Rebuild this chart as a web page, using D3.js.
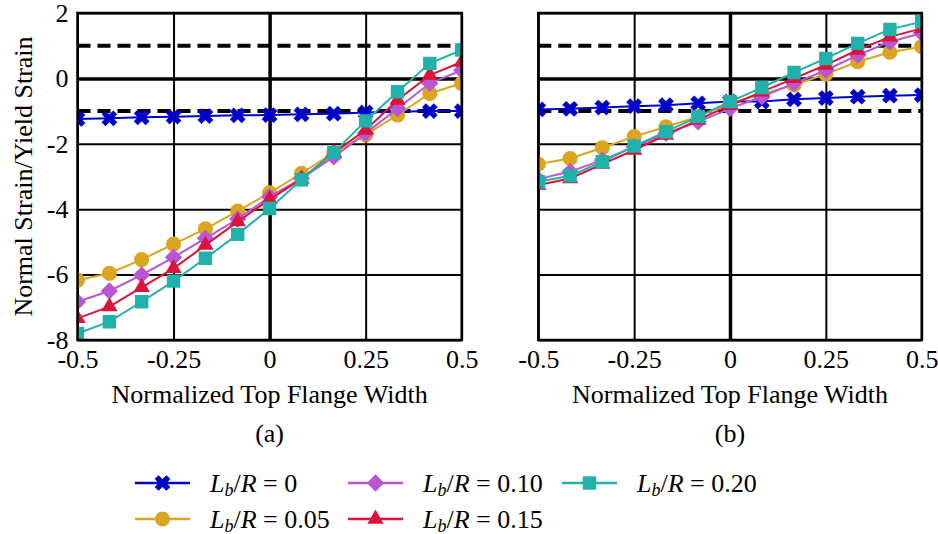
<!DOCTYPE html>
<html>
<head>
<meta charset="utf-8">
<script src="https://d3js.org/d3.v7.min.js"></script>
<style>
  body { margin: 0; background: #fff; }
  text { font-family: "Liberation Serif", "Times New Roman", serif; fill: #000; }
</style>
</head>
<body>
<div id="chart"></div>
<script>
// normalized top flange width (13 stations)
var xVals = [-0.5, -0.417, -0.333, -0.25, -0.167, -0.083, 0, 0.083, 0.167, 0.25, 0.333, 0.417, 0.5];
var xTicks = [-0.5, -0.25, 0, 0.25, 0.5];
var yTicks = [-8, -6, -4, -2, 0, 2];
var seriesNames = ["0", "0.05", "0.10", "0.15", "0.20"];

// panel (a)
var a_lb000 = [-1.24, -1.22, -1.19, -1.17, -1.15, -1.13, -1.12, -1.10, -1.08, -1.04, -1.02, -1.00, -1.00];
var a_lb005 = [-6.17, -5.96, -5.54, -5.07, -4.60, -4.06, -3.50, -2.90, -2.27, -1.73, -1.12, -0.46, -0.15];
var a_lb010 = [-6.83, -6.50, -6.01, -5.47, -4.89, -4.30, -3.62, -3.06, -2.40, -1.68, -0.92, -0.15, 0.25];
var a_lb015 = [-7.34, -6.98, -6.39, -5.81, -5.10, -4.38, -3.70, -3.08, -2.27, -1.58, -0.66, 0.10, 0.50];
var a_lb020 = [-7.80, -7.44, -6.83, -6.20, -5.50, -4.77, -3.98, -3.10, -2.27, -1.30, -0.41, 0.46, 0.87];

// panel (b)
var b_lb000 = [-0.95, -0.93, -0.89, -0.85, -0.82, -0.76, -0.71, -0.71, -0.64, -0.60, -0.56, -0.53, -0.51];
var b_lb005 = [-2.62, -2.45, -2.12, -1.78, -1.48, -1.17, -0.76, -0.48, -0.20, 0.13, 0.51, 0.80, 0.97];
var b_lb010 = [-3.08, -2.85, -2.50, -2.09, -1.68, -1.33, -0.92, -0.56, -0.15, 0.25, 0.71, 1.12, 1.38];
var b_lb015 = [-3.26, -3.06, -2.62, -2.19, -1.73, -1.27, -0.82, -0.41, 0.00, 0.41, 0.87, 1.27, 1.53];
var b_lb020 = [-3.16, -2.98, -2.55, -2.07, -1.63, -1.17, -0.71, -0.28, 0.18, 0.61, 1.07, 1.50, 1.73];

var colors = ["#0000CD", "#DAA520", "#BA55D3", "#DC143C", "#20B2AA"];
var symbols = [
  {type: d3.symbolCross, size: 155, rot: 45},
  {type: d3.symbolCircle, size: 180, rot: 0},
  {type: d3.symbolSquare, size: 150, rot: 45},
  {type: d3.symbolTriangle, size: 115, rot: 0},
  {type: d3.symbolSquare, size: 180, rot: 0}
];

var width = 938, height = 534;
var plotTop = 13, plotBottom = 340;

var svg = d3.select("#chart").append("svg")
  .attr("width", width)
  .attr("height", height);

var y = d3.scaleLinear().domain([-8, 2]).range([plotBottom, plotTop]);

var panels = [
  {x0: 77.5, x1: 461.7, label: "(a)", data: [a_lb000, a_lb005, a_lb010, a_lb015, a_lb020], yLabels: true},
  {x0: 538.3, x1: 921.7, label: "(b)", data: [b_lb000, b_lb005, b_lb010, b_lb015, b_lb020], yLabels: false}
];

var fmt = function(d) { return String(d); };

panels.forEach(function(p, pi) {
  var x = d3.scaleLinear().domain([-0.5, 0.5]).range([p.x0, p.x1]);
  var pw = p.x1 - p.x0, ph = plotBottom - plotTop;

  // vertical grid + x tick labels
  var gx = svg.append("g")
    .attr("transform", "translate(0," + plotBottom + ")")
    .call(d3.axisBottom(x).tickValues(xTicks).tickSizeInner(-ph).tickSizeOuter(0).tickPadding(9.5).tickFormat(fmt));
  gx.select(".domain").remove();
  gx.selectAll("line").attr("stroke", "#000").attr("stroke-width", function(d) { return d === 0 ? 3.5 : 2; });
  gx.selectAll("text").style("font-size", "26px").style("font-family", "Liberation Serif");

  // horizontal grid + y tick labels
  var gy = svg.append("g")
    .attr("transform", "translate(" + p.x0 + ",0)")
    .call(d3.axisLeft(y).tickValues(yTicks).tickSizeInner(-pw).tickSizeOuter(0).tickPadding(9)
      .tickFormat(p.yLabels ? fmt : function() { return ""; }));
  gy.select(".domain").remove();
  gy.selectAll("line").attr("stroke", "#000").attr("stroke-width", function(d) { return d === 0 ? 3.5 : 2; });
  gy.selectAll("text").style("font-size", "26px").style("font-family", "Liberation Serif");

  // yield lines
  svg.selectAll(null).data([1, -1]).enter().append("line")
    .attr("x1", p.x0).attr("x2", p.x1)
    .attr("y1", function(d) { return y(d); })
    .attr("y2", function(d) { return y(d); })
    .attr("stroke", "#000")
    .attr("stroke-width", 4)
    .attr("stroke-dasharray", "13,7");

  // clip
  var clipId = "clip" + pi;
  svg.append("clipPath").attr("id", clipId).append("rect")
    .attr("x", p.x0).attr("y", plotTop).attr("width", pw).attr("height", ph);

  var plot = svg.append("g").attr("clip-path", "url(#" + clipId + ")");

  var line = d3.line()
    .x(function(d, i) { return x(xVals[i]); })
    .y(function(d) { return y(d); });

  p.data.forEach(function(vals, si) {
    var g = plot.append("g");
    g.append("path")
      .datum(vals)
      .attr("d", line)
      .attr("fill", "none")
      .attr("stroke", colors[si])
      .attr("stroke-width", 2);
    var sym = d3.symbol().type(symbols[si].type).size(symbols[si].size);
    g.selectAll("path.mk").data(vals).enter().append("path")
      .attr("class", "mk")
      .attr("d", sym)
      .attr("transform", function(d, i) {
        return "translate(" + x(xVals[i]) + "," + y(d) + ") rotate(" + symbols[si].rot + ")";
      })
      .attr("fill", colors[si]);
  });

  // frame
  svg.append("rect")
    .attr("x", p.x0).attr("y", plotTop)
    .attr("width", pw).attr("height", ph)
    .attr("fill", "none")
    .attr("stroke", "#000")
    .attr("stroke-width", 2.5);

  var cx = (p.x0 + p.x1) / 2;
  svg.append("text")
    .attr("x", cx).attr("y", 403)
    .attr("text-anchor", "middle")
    .style("font-size", "26px")
    .text("Normalized Top Flange Width");
  svg.append("text")
    .attr("x", cx).attr("y", 442)
    .attr("text-anchor", "middle")
    .style("font-size", "26px")
    .text(p.label);
});

// y axis title
svg.append("text")
  .attr("transform", "translate(32," + ((plotTop + plotBottom) / 2) + ") rotate(-90)")
  .attr("text-anchor", "middle")
  .style("font-size", "26px")
  .text("Normal Strain/Yield Strain");

// legend
var legendPos = [
  {x: 135, y: 483}, {x: 135, y: 519},
  {x: 348, y: 483}, {x: 348, y: 519},
  {x: 562, y: 483}
];

var legend = svg.append("g");
seriesNames.forEach(function(name, si) {
  var lp = legendPos[si];
  var g = legend.append("g").attr("transform", "translate(" + lp.x + "," + lp.y + ")");
  g.append("line")
    .attr("x1", 0).attr("x2", 55)
    .attr("y1", 0).attr("y2", 0)
    .attr("stroke", colors[si])
    .attr("stroke-width", 2.5);
  g.append("path")
    .attr("d", d3.symbol().type(symbols[si].type).size(symbols[si].size))
    .attr("transform", "translate(27.5,0) rotate(" + symbols[si].rot + ")")
    .attr("fill", colors[si]);
  var t = g.append("text")
    .attr("x", 75).attr("y", 9)
    .style("font-size", "26px");
  t.append("tspan").style("font-style", "italic").text("L");
  t.append("tspan").style("font-style", "italic").style("font-size", "18px").attr("dy", 4).text("b");
  t.append("tspan").attr("dy", -4).text("/");
  t.append("tspan").style("font-style", "italic").text("R");
  t.append("tspan").text(" = " + name);
});
</script>
</body>
</html>
